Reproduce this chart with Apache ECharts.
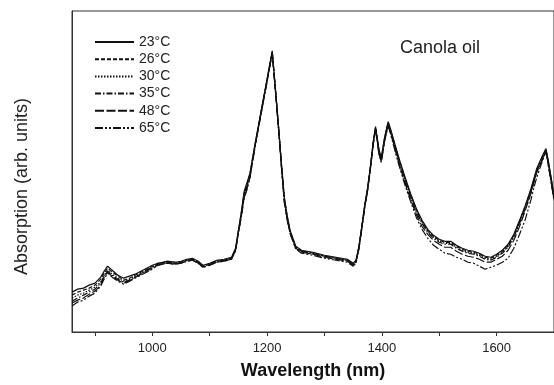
<!DOCTYPE html>
<html>
<head>
<meta charset="utf-8">
<script src="https://cdn.jsdelivr.net/npm/echarts@6/dist/echarts.min.js"></script>
<style>html,body{margin:0;padding:0;background:#fff;}#c{width:554px;height:385px;}</style>
</head>
<body>
<div id="c"></div>
<script>
// Wavelength (nm)
const wavelengths = [860,870,880,890,900,910,915,922,930,940,
950,960,970,980,990,1000,1010,1025,1040,1050,
1060,1070,1080,1088,1100,1112,1125,1138,1145,1150,
1155,1160,1165,1170,1180,1190,1200,1205,1209,1215,
1220,1225,1230,1235,1240,1250,1260,1280,1300,1320,
1340,1350,1355,1360,1365,1370,1375,1380,1385,1389,
1395,1399,1405,1411,1415,1420,1425,1430,1440,1450,
1460,1470,1480,1490,1500,1510,1520,1530,1540,1550,
1560,1570,1580,1590,1600,1610,1620,1630,1640,1650,
1660,1665,1670,1680,1686,1690,1695,1700];

// Absorption (arb. units) per temperature
const abs23 = [40,43,44,47,49,55,60,66,62,57,
54,56,58,61,64,67,69,71,70,71,
73,74,71,67,69,72,73,75,84,102,
120,141,150,159,192,223,254,270,282,241,
206,169,135,117,102,86,82,80,77,75,
73,69,72,86,106,127,144,166,191,206,
183,175,196,211,204,194,184,174,156,139,
124,112,103,97,93,91,91,87,84,82,
81,79,76,75,78,82,88,98,112,127,
144,154,164,177,184,172,155,137];
const abs26 = [37,40,42,44,47,53,58,64,60,56,
52,54,57,60,63,66,69,70,69,70,
72,73,70,66,68,71,72,74,83,101,
119,139,148,158,191,222,253,269,281,240,
205,168,134,116,101,85,81,79,76,74,
72,68,71,85,105,126,143,165,190,205,
182,174,195,210,203,193,183,173,155,138,
123,111,102,96,92,90,90,86,83,81,
80,78,75,74,77,81,87,97,111,126,
143,153,163,176,183,171,154,136];
const abs30 = [34,37,39,42,45,50,56,62,58,54,
51,53,56,59,62,65,68,70,69,70,
72,73,70,66,68,71,72,74,83,101,
118,138,147,157,191,222,253,269,281,240,
205,168,133,115,101,85,81,79,76,74,
72,68,71,85,105,126,143,165,190,205,
181,173,195,210,202,192,182,172,154,137,
122,110,101,95,91,89,89,85,82,80,
79,77,74,73,76,80,86,96,110,125,
142,152,162,175,182,170,153,135];
const abs35 = [31,34,37,40,43,49,55,61,57,53,
50,52,55,58,62,65,68,70,69,70,
72,73,70,66,68,71,72,74,82,100,
117,137,146,156,190,221,252,268,280,239,
204,167,132,114,100,84,81,79,76,74,
72,68,71,85,104,125,142,164,189,204,
180,172,194,209,201,191,181,170,152,135,
120,109,100,94,90,88,88,84,81,79,
78,76,73,72,75,79,85,95,109,124,
141,151,161,174,182,169,152,134];
const abs48 = [29,32,34,38,41,47,54,60,56,52,
49,51,55,58,61,64,67,69,68,69,
71,72,69,65,67,70,71,73,82,100,
116,135,144,155,190,221,252,268,279,239,
204,166,131,113,99,84,80,78,75,73,
71,67,70,84,104,125,142,164,189,204,
179,171,193,208,200,190,179,169,150,133,
118,106,98,92,88,85,85,81,78,76,
75,73,70,70,73,76,82,92,106,122,
139,150,160,173,181,168,151,133];
const abs65 = [26,30,32,36,39,46,52,59,55,51,
48,51,54,57,60,63,67,69,68,69,
71,72,69,65,67,70,71,73,81,99,
115,134,143,154,189,220,251,267,278,238,
203,165,130,112,99,83,79,77,74,72,
70,66,69,83,103,124,141,163,188,203,
178,170,192,207,199,188,177,167,148,131,
115,103,94,87,83,79,78,75,73,70,
69,66,63,65,67,70,74,84,98,113,
133,145,155,172,181,167,150,132];

const seriesNames = ['23°C','26°C','30°C','35°C','48°C','65°C'];
const seriesData = [abs23, abs26, abs30, abs35, abs48, abs65];
const xTickValues = [900,1000,1100,1200,1300,1400,1500,1600,1700];
const xLabelValues = [1000,1200,1400,1600];

const dashes = ['solid',[4,2],[1.5,1.5],[6,2,1.5,2],[9,2.5],[8,2,2,2,2,2]];
const font = '"Liberation Sans", Arial, sans-serif';

const chart = echarts.init(document.getElementById('c'), null, {renderer:'canvas'});
chart.setOption({
  animation: false,
  backgroundColor: '#fff',
  title: {
    text: 'Canola oil', left: 400, top: 39, padding: 0,
    textStyle: {fontFamily: font, fontSize: 18, fontWeight: 'normal', color: '#222'}
  },
  legend: {
    orient: 'vertical', left: 94, top: 35, padding: 0,
    itemWidth: 39, itemHeight: 12, itemGap: 3.2,
    data: seriesNames,
    itemStyle: {opacity: 0, borderWidth: 0},
    textStyle: {fontFamily: font, fontSize: 14, color: '#222'}
  },
  grid: {left: 72, right: -1, top: 11, bottom: 52, show: true, borderColor: '#333', borderWidth: 1, backgroundColor: 'transparent'},
  xAxis: {
    type: 'value', min: 860, max: 1700,
    name: 'Wavelength (nm)', nameLocation: 'middle', nameGap: 30,
    nameTextStyle: {fontFamily: font, fontSize: 18, fontWeight: 'bold', color: '#111'},
    axisLine: {lineStyle: {color: '#333', width: 1}},
    axisTick: {show: true, inside: false, length: 4, customValues: xTickValues, lineStyle: {color: '#333'}},
    axisLabel: {customValues: xLabelValues, formatter: v => String(v), fontFamily: font, fontSize: 13, color: '#222', margin: 10},
    splitLine: {show: false}
  },
  yAxis: {
    type: 'value', min: 0, max: 322,
    name: 'Absorption (arb. units)', nameLocation: 'middle', nameGap: 41, nameRotate: 90,
    nameTextStyle: {fontFamily: font, fontSize: 18, color: '#222', padding: [0, 30, 0, 0]},
    axisLine: {show: true, lineStyle: {color: '#333', width: 1}},
    axisTick: {show: false}, axisLabel: {show: false}, splitLine: {show: false}
  },
  series: seriesNames.map((n, i) => ({
    name: n, type: 'line', showSymbol: false, symbol: 'none',
    data: wavelengths.map((w, j) => [w, seriesData[i][j]]),
    lineStyle: {color: '#111', width: 1.2, type: dashes[i]},
    itemStyle: {color: '#111'}
  }))
});
</script>
</body>
</html>
